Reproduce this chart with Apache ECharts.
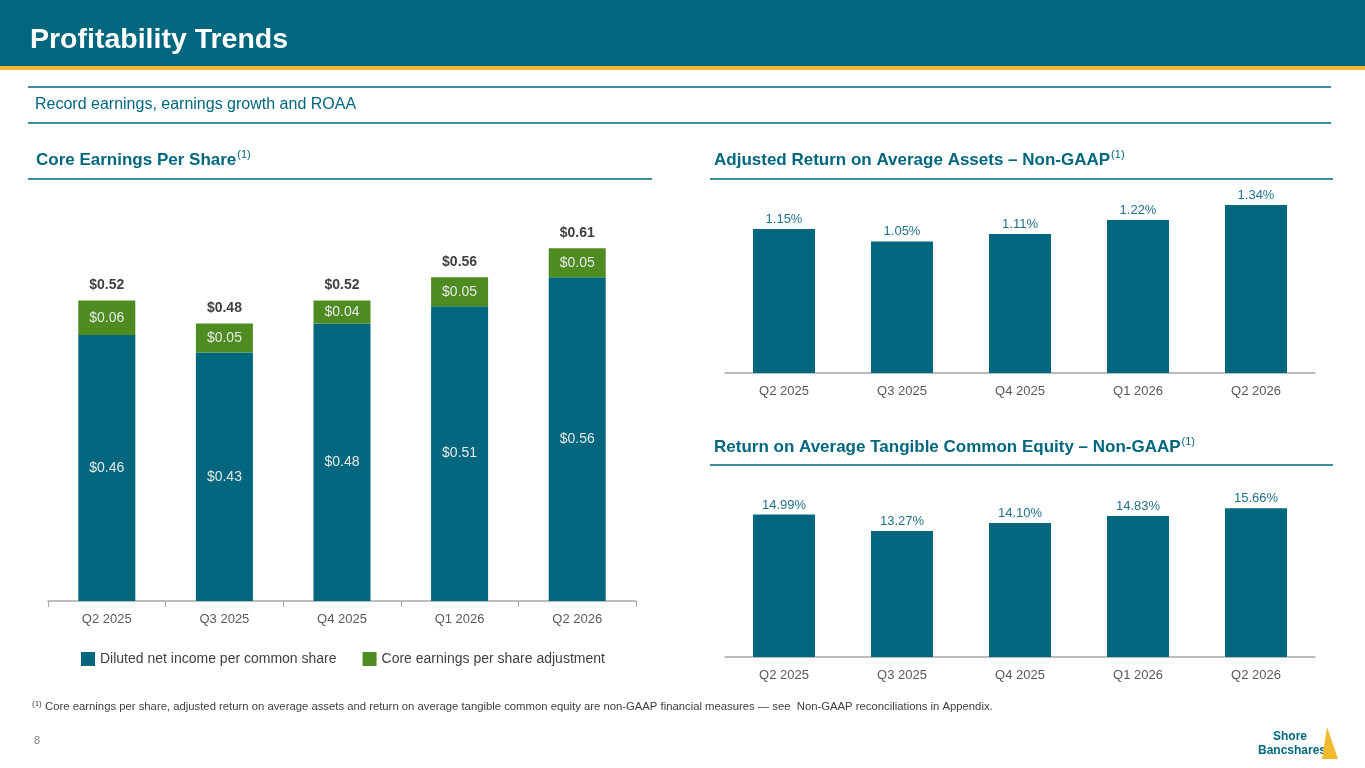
<!DOCTYPE html>
<html><head><meta charset="utf-8">
<script src="https://cdn.jsdelivr.net/npm/echarts@6/dist/echarts.min.js"></script>
<style>html,body{margin:0;padding:0;background:#fff}#main{width:1365px;height:768px}</style>
</head><body><div id="main"></div>
<script>
const quarters = ['Q2 2025', 'Q3 2025', 'Q4 2025', 'Q1 2026', 'Q2 2026']
const dilutedEps = [0.46, 0.43, 0.48, 0.51, 0.56]
const coreAdj = [0.06, 0.05, 0.04, 0.05, 0.05]
const coreEps = [0.52, 0.48, 0.52, 0.56, 0.61]
const roaa = [1.15, 1.05, 1.11, 1.22, 1.34]
const rotce = [14.99, 13.27, 14.10, 14.83, 15.66]

const TEAL = '#00677F'
const GREEN = '#4E8B21'
const FONT = 'Liberation Sans, Arial, sans-serif'

var myChart = echarts.init(document.getElementById('main'))

function hline(x1, x2, y, color, w) {
  return { type: 'line', shape: { x1: x1, y1: y, x2: x2, y2: y }, style: { stroke: color, lineWidth: w || 1 } }
}
function txt(x, y, s, size, color, weight) {
  return { type: 'text', x: x, y: y, style: { text: s, font: (weight || 'normal') + ' ' + size + 'px ' + FONT, fill: color, textVerticalAlign: 'middle' } }
}
function titleRich(x, y, s) {
  return { type: 'text', x: x, y: y, style: { text: '{a|' + s + '}{b|(1)}', textVerticalAlign: 'middle',
    rich: { a: { font: 'bold 17px ' + FONT, fill: TEAL }, b: { font: '11px ' + FONT, fill: TEAL, padding: [0, 0, 10, 1] } } } }
}

const catAxis = (idx) => ({
  type: 'category', gridIndex: idx, data: quarters,
  axisLine: { lineStyle: { color: '#A6A6A6', width: 1.5 } },
  axisTick: { show: idx === 0, lineStyle: { color: '#A6A6A6' }, length: 6 },
  axisLabel: { color: '#595959', fontSize: 13, fontFamily: FONT, margin: 12 }
})
const valAxis = (idx, max) => ({ type: 'value', gridIndex: idx, min: 0, max: max, show: false, splitLine: { show: false } })

const options = {
  animation: false,
  graphic: [
    { type: 'rect', shape: { x: 0, y: 0, width: 1365, height: 66 }, style: { fill: TEAL } },
    { type: 'rect', shape: { x: 0, y: 66, width: 1365, height: 4 }, style: { fill: '#F2B82E' } },
    txt(30, 40, 'Profitability Trends', 28.5, '#fff', 'bold'),
    hline(28, 1331, 87, TEAL, 1.5),
    hline(28, 1331, 123, TEAL, 1.5),
    txt(35, 105, 'Record earnings, earnings growth and ROAA', 16, TEAL),
    titleRich(36, 160, 'Core Earnings Per Share'),
    hline(28, 652, 179, TEAL, 1.5),
    titleRich(714, 160, 'Adjusted Return on Average Assets \u2013 Non-GAAP'),
    hline(710, 1333, 179, TEAL, 1.5),
    titleRich(714, 447, 'Return on Average Tangible Common Equity \u2013 Non-GAAP'),
    hline(710, 1333, 465, TEAL, 1.5),
    { type: 'text', x: 32, y: 707, style: { text: '{b|(1)} {a|Core earnings per share, adjusted return on average assets and return on average tangible common equity are non-GAAP financial measures \u2014 see  Non-GAAP reconciliations in Appendix.}', textVerticalAlign: 'middle',
      rich: { a: { font: '11.3px ' + FONT, fill: '#404040' }, b: { font: '8px ' + FONT, fill: '#404040', padding: [0, 0, 6, 0] } } } },
    txt(34, 741, '8', 11, '#7F7F7F'),
    txt(1273, 737, 'Shore', 12, TEAL, 'bold'),
    txt(1258, 751, 'Bancshares', 12, TEAL, 'bold'),
    { type: 'polygon', shape: { points: [[1327, 727], [1338, 759], [1322, 759]] }, style: { fill: '#F2B82E' } }
  ],
  legend: {
    left: 76, top: 647, itemWidth: 14, itemHeight: 14, itemGap: 26, icon: 'rect',
    textStyle: { color: '#404040', fontSize: 14, fontFamily: FONT },
    data: ['Diluted net income per common share', 'Core earnings per share adjustment']
  },
  grid: [
    { left: 48, width: 588, top: 179, height: 422 },
    { left: 725, width: 590, top: 180, height: 193 },
    { left: 725, width: 590, top: 466, height: 191 }
  ],
  xAxis: [catAxis(0), catAxis(1), catAxis(2)],
  yAxis: [valAxis(0, 0.73), valAxis(1, 1.54), valAxis(2, 20.1)],
  series: [
    { name: 'Diluted net income per common share', type: 'bar', stack: 'eps', xAxisIndex: 0, yAxisIndex: 0,
      data: dilutedEps, barWidth: 57, itemStyle: { color: TEAL },
      label: { show: true, position: 'inside', formatter: (p) => '$' + p.value.toFixed(2), color: '#E8E8E8', fontSize: 14, fontFamily: FONT } },
    { name: 'Core earnings per share adjustment', type: 'bar', stack: 'eps', xAxisIndex: 0, yAxisIndex: 0,
      data: coreAdj, barWidth: 57, itemStyle: { color: GREEN },
      label: { show: true, position: 'inside', formatter: (p) => '$' + p.value.toFixed(2), color: '#E8E8E8', fontSize: 14, fontFamily: FONT } },
    { name: 'total', type: 'bar', stack: 'eps2', xAxisIndex: 0, yAxisIndex: 0, barGap: '-100%',
      data: coreEps, barWidth: 57, itemStyle: { color: 'rgba(0,0,0,0)' }, z: -1,
      label: { show: true, position: 'top', distance: 8, formatter: (p) => '$' + p.value.toFixed(2), color: '#404040', fontSize: 14, fontWeight: 'bold', fontFamily: FONT } },
    { type: 'bar', xAxisIndex: 1, yAxisIndex: 1, data: roaa, barWidth: 62, itemStyle: { color: TEAL },
      label: { show: true, position: 'top', distance: 3, formatter: (p) => p.value.toFixed(2) + '%', color: '#1F7088', fontSize: 13, fontFamily: FONT } },
    { type: 'bar', xAxisIndex: 2, yAxisIndex: 2, data: rotce, barWidth: 62, itemStyle: { color: TEAL },
      label: { show: true, position: 'top', distance: 3, formatter: (p) => p.value.toFixed(2) + '%', color: '#1F7088', fontSize: 13, fontFamily: FONT } }
  ]
}

myChart.setOption(options)
</script>
</body></html>
